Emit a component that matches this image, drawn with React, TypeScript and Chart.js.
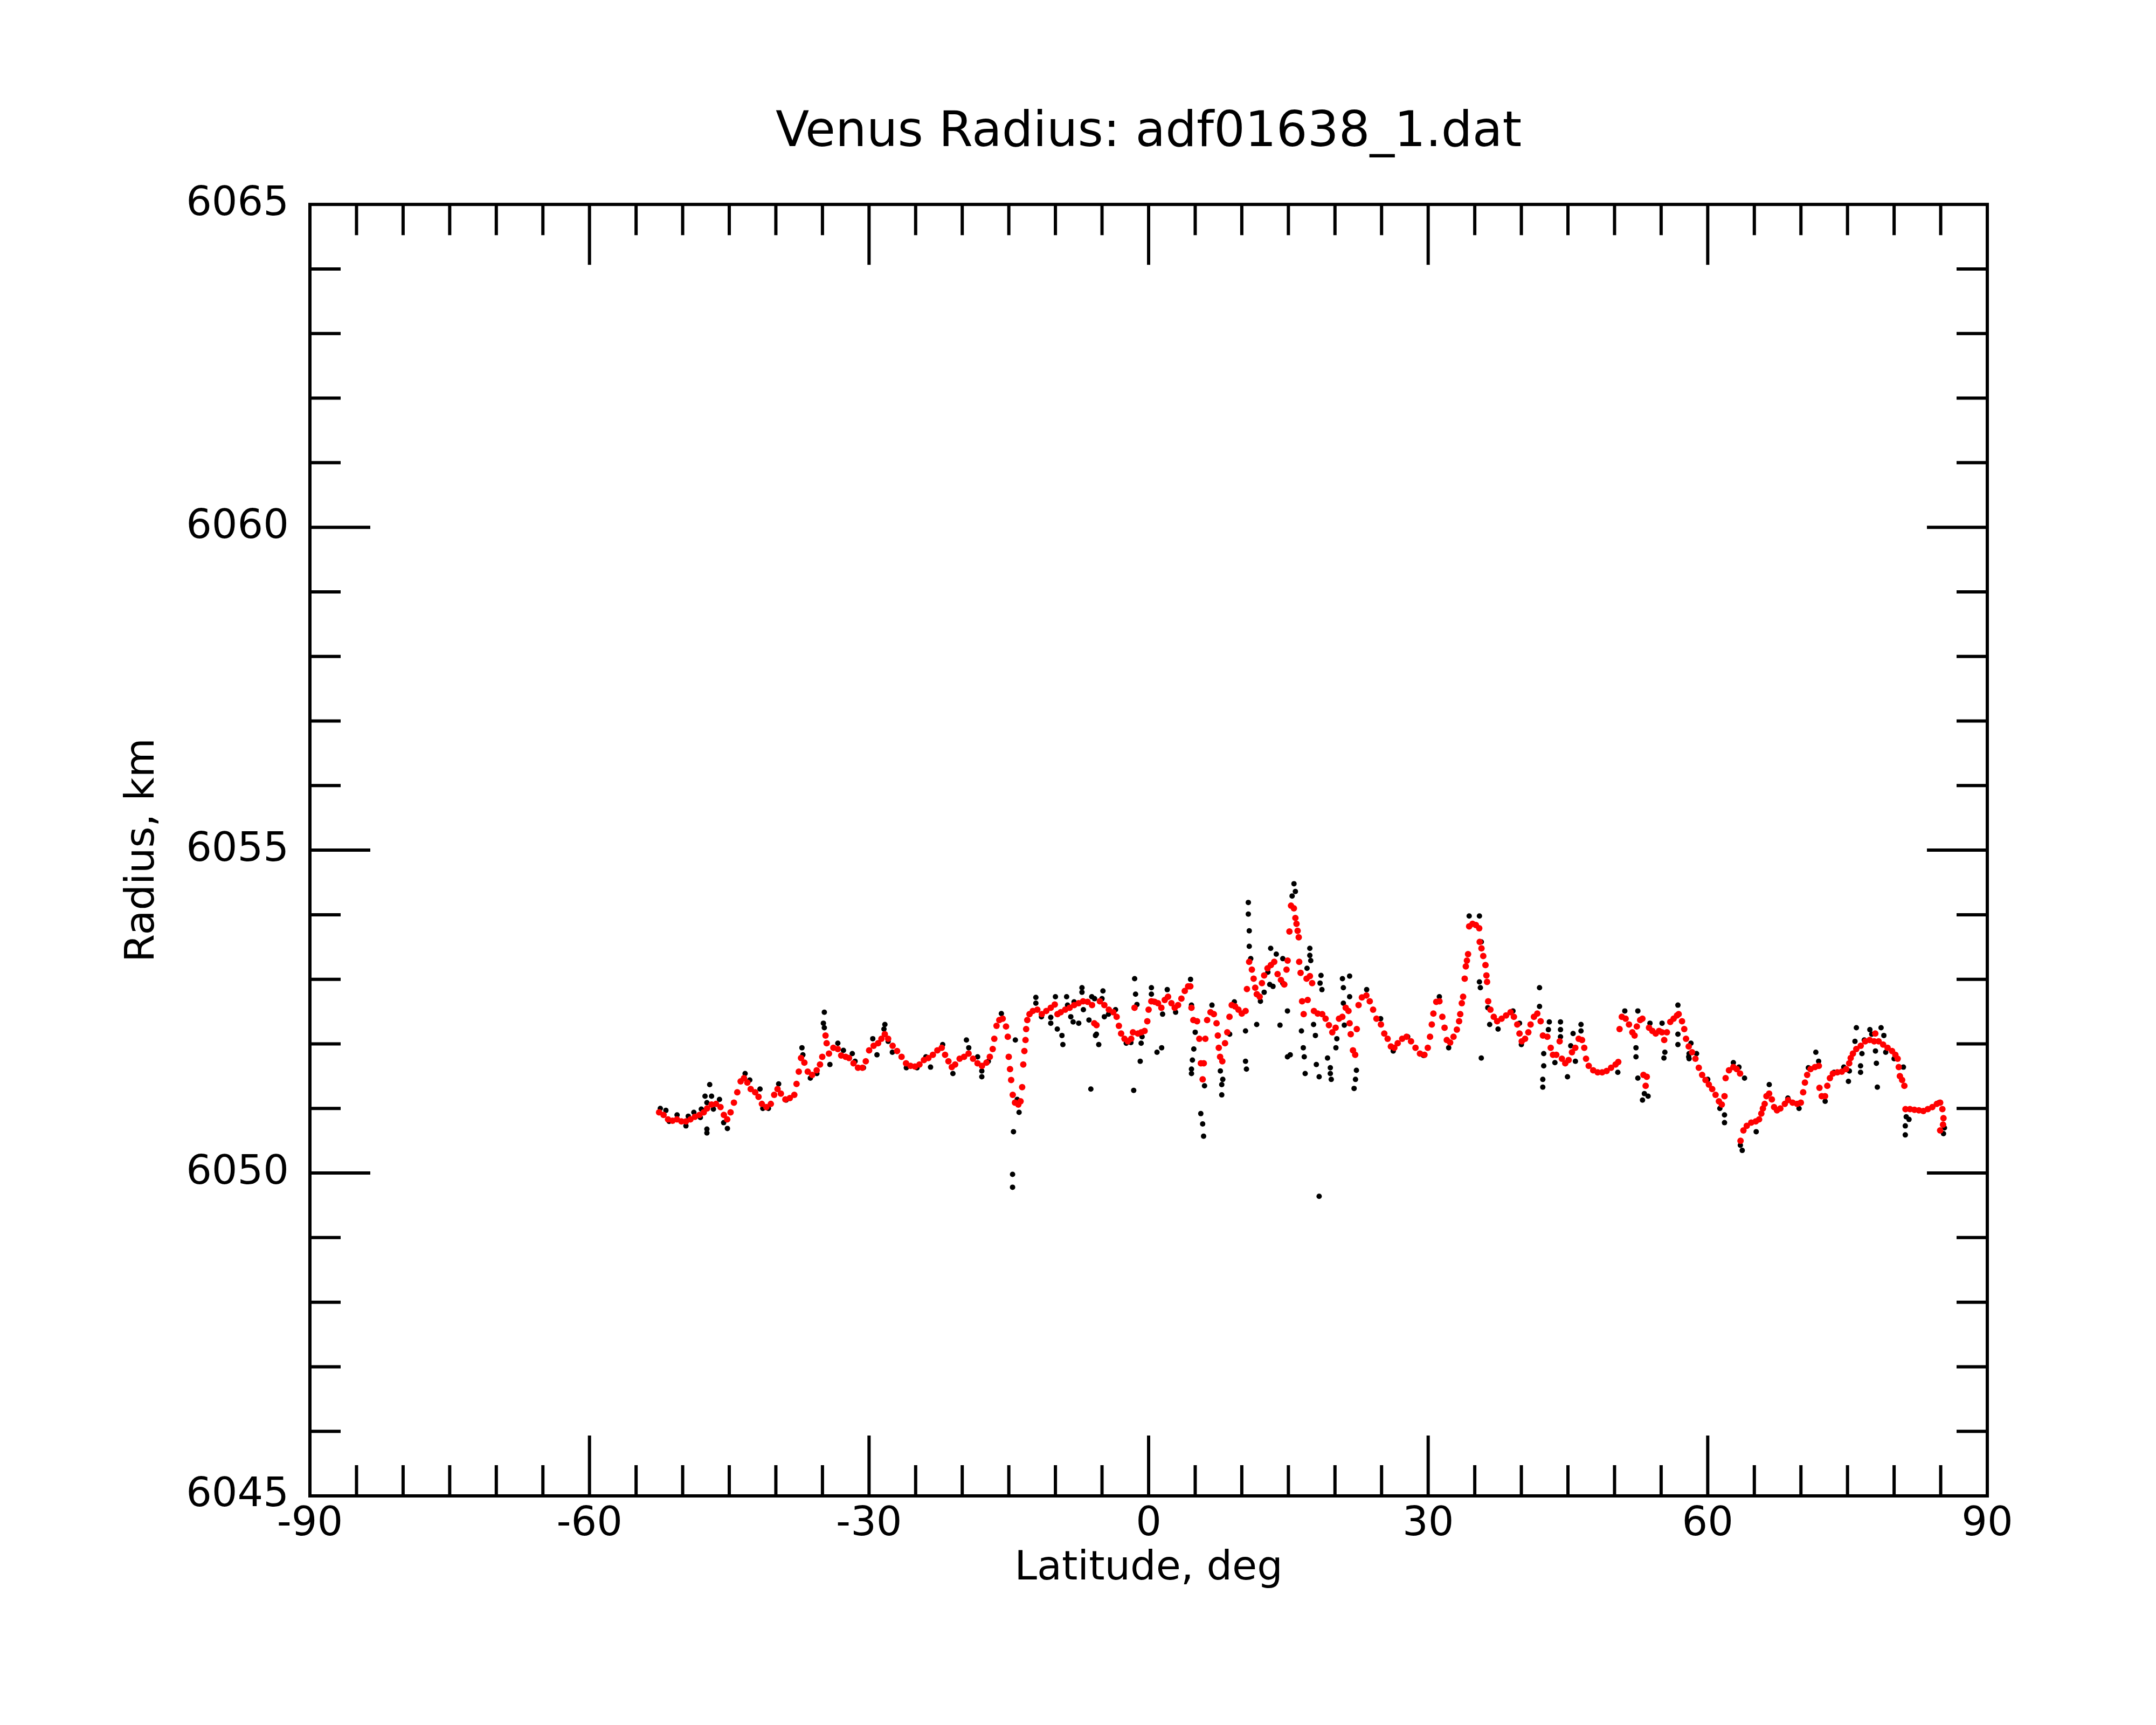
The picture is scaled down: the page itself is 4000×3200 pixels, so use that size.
import { useEffect, useRef } from "react"
import { Chart, registerables } from "chart.js"

Chart.register(...registerables)

// smoothed radius (red)
const redLat = [
  -52.53, -52.05, -51.57, -51.09, -50.61, -50.13, -49.65, -49.17, -48.69, -48.2, -47.74, -47.38, -46.9, -46.42,
  -45.94, -45.58, -45.22, -44.86, -44.5, -44.14, -43.78, -43.42, -43.06, -42.7, -42.22, -41.86, -41.5, -41.02,
  -40.54, -40.18, -39.82, -39.46, -38.98, -38.5, -38.02, -37.78, -37.54, -37.3, -36.94, -36.58, -36.1, -35.62,
  -35.26, -35.02, -34.67, -34.55, -34.3, -33.83, -33.35, -32.99, -32.51, -32.15, -31.67, -31.19, -30.71, -30.35,
  -29.99, -29.51, -29.03, -28.67, -28.31, -27.95, -27.47, -26.99, -26.51, -26.03, -25.55, -25.07, -24.59, -24.11,
  -23.63, -23.15, -22.67, -22.2, -21.84, -21.48, -21.12, -20.76, -20.28, -19.8, -19.32, -18.84, -18.36, -17.88,
  -17.4, -17.04, -16.73, -16.56, -16.32,
  -16.02, -15.66, -15.3, -15.11, -15.01, -14.87, -14.75, -14.58, -14.34, -13.98, -13.74, -13.57, -13.45, -13.33,
  -13.21, -13.14, -13.02, -12.78, -12.42, -11.94, -11.46, -10.98, -10.5, -10.07, -9.78, -9.43, -8.95, -8.47,
  -7.99, -7.51, -7.03, -6.55, -6.07, -5.83, -5.59, -5.23, -4.75, -4.27, -3.79, -3.43, -3.19, -2.95, -2.59,
  -2.23, -1.87, -1.68, -1.51, -1.15, -0.79, -0.43, -0.14, 0.0, 0.29, 0.65, 1.01, 1.37, 1.73, 2.09, 2.45, 2.8,
  3.16, 3.52, 3.88, 4.24, 4.48, 4.6, 4.8, 5.2, 5.44, 5.61, 5.8, 5.92, 6.09, 6.28, 6.64, 7.0, 7.29, 7.43, 7.53,
  7.67, 7.91, 8.2, 8.44, 8.68, 8.92, 9.28, 9.64, 10.0, 10.41, 10.55, 10.79, 11.08, 11.27, 11.44, 11.61, 11.92,
  12.16, 12.4, 12.76, 13.12, 13.48, 13.84, 14.2, 14.56, 14.8, 14.92, 15.11, 15.28, 15.59, 15.75, 15.87, 15.99,
  16.11, 16.16, 16.31, 16.47, 16.64, 16.95, 17.07, 17.31, 17.55, 17.74, 18.15, 18.63, 18.99, 19.35, 19.71,
  20.07, 20.43, 20.79, 21.15,
  21.45, 21.57, 21.69, 21.93, 22.17, 22.34, 22.53, 22.89, 23.37, 23.73, 24.09, 24.45, 24.93, 25.29, 25.65, 26.0,
  26.37, 26.73, 27.21, 27.68, 28.16, 28.64, 29.12, 29.6, 29.96, 30.2, 30.39, 30.56, 30.87, 31.21, 31.52, 31.76,
  32.0, 32.36, 32.72, 33.08, 33.32, 33.44, 33.61, 33.75, 33.92, 34.04, 34.16, 34.28, 34.4, 34.76, 35.12, 35.48,
  35.53, 35.72, 35.91, 36.15, 36.25, 36.32, 36.44, 36.68, 37.04, 37.4, 37.88, 38.36, 38.84, 39.2, 39.56, 39.8,
  40.04, 40.4, 40.75, 40.99, 41.35, 41.71, 42.07, 42.31, 42.79, 43.15, 43.39, 43.75, 44.11, 44.35, 44.71, 45.07,
  45.43, 45.79, 46.15, 46.51, 46.75, 46.94, 47.23, 47.71, 48.19, 48.67, 49.15, 49.63, 50.11, 50.4, 50.54, 50.78,
  51.19, 51.55, 51.91, 52.15, 52.39, 52.75, 52.99, 53.1, 53.46, 53.34, 53.7, 54.06, 54.42, 54.78, 55.09, 55.33,
  55.62, 55.98, 56.34, 56.7,
  56.88, 57.24, 57.48, 57.67, 57.96, 58.32, 58.68, 59.04, 59.4, 59.76, 60.12, 60.48, 60.84, 61.2, 61.51, 61.8,
  61.92, 62.28, 62.75, 63.11, 63.47, 63.52, 63.83, 64.19, 64.67, 65.15, 65.51, 65.75, 65.92, 66.11, 66.3, 66.59,
  66.88, 67.12, 67.43, 67.79, 68.27, 68.63, 69.11, 69.59, 69.99, 70.24, 70.43, 70.67, 71.03, 71.51, 71.92, 71.99,
  72.23, 72.59, 72.83, 73.11, 73.43, 73.91, 74.39, 74.86, 75.18, 75.34, 75.58, 75.94, 76.42, 76.9, 77.38, 77.86,
  77.98, 78.34, 78.82, 79.3, 79.78, 80.14, 80.38, 80.5, 80.62, 80.86, 81.1, 81.22, 81.7, 82.18, 82.66, 83.14,
  83.62, 84.1, 84.58, 84.94, 85.18, 85.3, 85.25, 84.94,
]
const redRadius = [
  6050.94, 6050.9, 6050.83, 6050.81, 6050.83, 6050.8, 6050.8, 6050.83, 6050.87, 6050.9, 6050.94, 6051.0, 6051.06, 6051.07,
  6051.02, 6050.9, 6050.83, 6050.94, 6051.09, 6051.25, 6051.42, 6051.47, 6051.4, 6051.3, 6051.25, 6051.18, 6051.07, 6051.02,
  6051.07, 6051.21, 6051.3, 6051.23, 6051.14, 6051.16, 6051.21, 6051.38, 6051.57, 6051.78, 6051.71, 6051.57, 6051.52, 6051.59,
  6051.68, 6051.8, 6052.13, 6052.01, 6051.85, 6051.94, 6051.92, 6051.82, 6051.8, 6051.78, 6051.7, 6051.63, 6051.63, 6051.73,
  6051.9, 6051.97, 6052.01, 6052.08, 6052.15, 6052.08, 6051.97, 6051.89, 6051.8, 6051.7, 6051.66, 6051.65, 6051.68, 6051.75,
  6051.78, 6051.83, 6051.9, 6051.94, 6051.83, 6051.73, 6051.64, 6051.68, 6051.77, 6051.8, 6051.85, 6051.77, 6051.7, 6051.66,
  6051.71, 6051.8, 6051.92, 6052.08, 6052.28,
  6052.37, 6052.39, 6052.27, 6052.11, 6051.8, 6051.61, 6051.44, 6051.21, 6051.09, 6051.06, 6051.11, 6051.33, 6051.68, 6051.89,
  6052.06, 6052.23, 6052.37, 6052.46, 6052.51, 6052.53, 6052.46, 6052.51, 6052.56, 6052.61, 6052.46, 6052.49, 6052.53, 6052.56,
  6052.6, 6052.63, 6052.66, 6052.65, 6052.6, 6052.32, 6052.29, 6052.66, 6052.6, 6052.53, 6052.49, 6052.42, 6052.28, 6052.16, 6052.08,
  6052.04, 6052.08, 6052.18, 6052.56, 6052.16, 6052.18, 6052.2, 6052.35, 6052.53, 6052.66, 6052.65, 6052.63, 6052.56, 6052.68, 6052.73, 6052.63, 6052.56,
  6052.6, 6052.7, 6052.82, 6052.89, 6052.89, 6052.56, 6052.37, 6052.35, 6052.08, 6051.7, 6051.45, 6051.7, 6052.08, 6052.37, 6052.49, 6052.46, 6052.32, 6052.13, 6051.94,
  6051.8, 6051.73, 6052.01, 6052.18, 6052.42, 6052.6, 6052.58, 6052.53, 6052.47, 6052.51, 6052.85, 6053.27, 6053.15, 6053.01, 6052.87, 6052.77, 6052.73,
  6052.94, 6053.06, 6053.17, 6053.22, 6053.27, 6053.08, 6052.99, 6052.92, 6053.15, 6053.29, 6053.74, 6054.14, 6054.1, 6053.95, 6053.86, 6053.75,
  6053.65, 6053.27, 6053.1, 6052.66, 6052.46, 6053.01, 6052.68, 6053.05, 6052.94, 6052.51, 6052.47, 6052.46, 6052.39, 6052.29, 6052.18,
  6052.25, 6052.39, 6052.42, 6052.56,
  6052.51, 6052.32, 6052.15, 6051.9, 6051.83, 6052.23, 6052.6, 6052.72, 6052.75, 6052.66, 6052.53, 6052.39, 6052.3, 6052.16, 6052.08, 6051.96,
  6051.94, 6052.01, 6052.08, 6052.11, 6052.04, 6051.94, 6051.85, 6051.83, 6051.94, 6052.11, 6052.3, 6052.47, 6052.65, 6052.66, 6052.42, 6052.25,
  6052.06, 6052.02, 6052.11, 6052.22, 6052.35, 6052.46, 6052.63, 6052.73, 6053.01, 6053.2, 6053.29, 6053.39, 6053.82, 6053.86, 6053.84, 6053.79,
  6053.58, 6053.48, 6053.36, 6053.22, 6053.06, 6052.96, 6052.66, 6052.53, 6052.42, 6052.35, 6052.39, 6052.44, 6052.49, 6052.42, 6052.3, 6052.16,
  6052.04, 6052.08, 6052.18, 6052.3, 6052.42, 6052.47, 6052.35, 6052.13, 6052.11, 6051.94, 6051.83, 6051.83, 6052.04, 6051.77, 6051.7, 6051.75,
  6051.87, 6051.94, 6052.08, 6052.06, 6051.94, 6051.77, 6051.66, 6051.59, 6051.56, 6051.56, 6051.58, 6051.63, 6051.68, 6051.72, 6052.23, 6052.42,
  6052.39, 6052.3, 6052.18, 6052.13, 6052.27, 6052.37, 6052.39, 6051.52, 6051.49, 6051.35, 6052.25, 6052.2, 6052.16, 6052.2, 6052.18, 6052.06,
  6052.18, 6052.34, 6052.39, 6052.44,
  6052.46, 6052.35, 6052.23, 6052.08, 6051.96, 6051.87, 6051.77, 6051.63, 6051.52, 6051.44, 6051.37, 6051.3, 6051.21, 6051.11, 6051.06, 6051.19,
  6051.47, 6051.59, 6051.64, 6051.61, 6051.54, 6050.5, 6050.66, 6050.73, 6050.78, 6050.8, 6050.83, 6050.92, 6051.0, 6051.07, 6051.19, 6051.23,
  6051.14, 6051.02, 6050.97, 6051.0, 6051.07, 6051.13, 6051.09, 6051.07, 6051.09, 6051.25, 6051.4, 6051.52, 6051.61, 6051.64, 6051.66, 6051.32,
  6051.19, 6051.19, 6051.35, 6051.47, 6051.54, 6051.56, 6051.57, 6051.61, 6051.7, 6051.78, 6051.85, 6051.92, 6051.97, 6052.04, 6052.06, 6052.04,
  6052.16, 6052.04, 6051.99, 6051.94, 6051.89, 6051.83, 6051.77, 6051.64, 6051.5, 6051.44, 6051.35, 6050.99, 6050.99, 6050.98, 6050.97, 6050.96,
  6050.99, 6051.02, 6051.07, 6051.09, 6050.99, 6050.85, 6050.75, 6050.66,
]

// raw radius samples (black) that show around the red trace
const blackLat = [
  -52.4, -51.8, -51.45, -50.6, -49.65, -49.4, -48.8, -48.1, -48.0, -47.6, -47.4, -47.1, -47.4, -47.4, -46.9, -46.7,
  -46.05, -45.6, -45.2, -43.3, -42.8, -41.7, -41.4, -40.8, -39.7, -38.9, -37.2, -37.1, -36.3, -35.6, -35.3, -34.8,
  -34.9, -34.8, -34.2, -33.35, -32.75, -31.8, -31.5, -30.6, -29.6, -29.15, -28.3, -28.4, -27.95, -27.5, -26.0, -24.85,
  -23.9, -23.4, -22.1, -21.0, -19.55, -19.3, -18.35, -17.9, -17.9, -17.2,
  -15.8, -14.3, -14.5, -14.6, -14.6, -13.9, -14.1, -12.1, -12.1, -11.5, -10.5, -10.5, -10.0, -9.8, -9.3, -9.2,
  -8.8, -8.7, -8.35, -8.1, -8.0, -7.5, -7.15, -7.15, -7.0, -6.4, -6.1, -5.8, -6.2, -5.7, -5.35, -5.6, -4.9, -5.0,
  -4.75, -4.3, -3.55, -2.4, -1.9, -1.5, -1.4, -1.25, -1.6, -0.9, -0.7, -0.8, 0.3, 0.3, 0.5, 0.9, 1.4, 1.5, 2.0,
  2.0, 2.9, 4.5, 4.6, 5.0, 4.85, 4.7, 4.6, 4.6, 5.6, 5.8, 5.9, 6.0, 6.8, 7.7, 7.96, 7.85, 7.85, 8.7, 9.2, 9.6,
  10.4, 10.4, 10.5, 10.7, 10.7, 10.8, 10.8, 10.96, 11.6, 12.0, 12.4, 12.8, 13.0, 13.1, 13.35, 13.7, 14.1, 14.4,
  14.4, 14.9, 14.9, 15.2, 15.4, 15.6, 15.75, 16.4, 16.6, 16.7, 16.8, 17.0, 17.3, 17.3, 17.4, 17.7, 17.9, 18.0,
  18.3, 18.3, 18.5, 18.4, 18.6, 19.2, 19.5, 19.5, 19.6, 20.1, 20.2, 20.8, 20.9, 20.9, 21.0,
  21.57, 21.57, 22.3, 22.2, 22.05, 23.4, 24.9, 26.25, 27.8, 29.5, 31.2, 32.2, 34.4, 35.5, 35.7, 35.5, 35.6, 35.7,
  36.4, 36.6, 37.5, 39.1, 39.8, 40.0, 41.95, 41.95, 42.4, 42.3, 42.3, 42.4, 43.0, 42.9, 43.6, 44.2, 44.2, 44.2,
  44.95, 45.3, 45.55, 45.8, 46.4, 46.4, 50.35, 51.1, 52.5, 52.5, 52.3, 52.3, 53.0, 53.6, 53.2, 53.8, 55.1, 55.4,
  55.3, 56.8, 56.8, 56.8, 58.0, 58.0,
  57.96, 58.2, 58.8, 60.0, 61.3, 61.8, 61.8, 62.75, 63.35, 63.95, 63.5, 63.7, 65.2, 66.6, 68.6, 69.8, 70.8, 71.6,
  71.9, 72.6, 73.55, 74.6, 75.1, 75.2, 75.95, 75.8, 76.55, 76.4, 76.4, 76.8, 77.4, 77.6, 78.0, 78.1, 78.2, 78.6,
  78.9, 79.1, 80.0, 81.0, 81.3, 81.2, 81.2, 81.6, 84.8, 85.3, 85.4,
]
const blackRadius = [
  6051.0, 6050.97, 6050.8, 6050.9, 6050.73, 6050.88, 6050.94, 6050.86, 6050.99, 6051.19, 6051.09, 6051.37, 6050.68, 6050.62, 6051.19, 6050.99,
  6051.14, 6050.78, 6050.69, 6051.54, 6051.44, 6051.3, 6051.0, 6051.0, 6051.38, 6051.13, 6051.94, 6051.83, 6051.47, 6051.54, 6051.68, 6052.49,
  6052.32, 6052.25, 6051.68, 6052.01, 6051.9, 6051.85, 6051.73, 6051.63, 6052.08, 6051.83, 6052.3, 6052.23, 6052.04, 6051.87, 6051.63, 6051.63,
  6051.8, 6051.64, 6051.99, 6051.54, 6052.06, 6051.94, 6051.8, 6051.58, 6051.49, 6051.73,
  6052.47, 6052.06, 6050.64, 6049.98, 6049.78, 6050.94, 6051.14, 6052.72, 6052.63, 6052.42, 6052.41, 6052.32, 6052.73, 6052.23, 6052.13, 6051.99,
  6052.73, 6052.6, 6052.42, 6052.34, 6052.65, 6052.32, 6052.87, 6052.8, 6052.53, 6052.37, 6052.73, 6052.7, 6051.3, 6052.13, 6051.99, 6052.15, 6052.82, 6052.7,
  6052.42, 6052.46, 6052.53, 6052.01, 6052.02, 6053.01, 6052.77, 6052.61, 6051.28, 6051.73, 6052.11, 6052.01, 6052.87, 6052.77, 6052.66, 6051.87, 6051.94, 6052.46, 6052.84,
  6052.72, 6052.49, 6053.0, 6052.6, 6052.18, 6051.92, 6051.75, 6051.61, 6051.54, 6050.92, 6050.76, 6050.57, 6051.35, 6052.6, 6051.58, 6051.45, 6051.37, 6051.21, 6052.15, 6052.65, 6052.53,
  6052.2, 6051.73, 6051.61, 6054.19, 6054.01, 6053.75, 6053.51, 6053.32, 6052.3, 6052.66, 6052.8, 6053.11, 6052.92, 6053.48, 6052.89, 6053.39, 6052.29, 6053.32,
  6052.94, 6052.51, 6051.8, 6051.83, 6054.29, 6054.48, 6054.36, 6052.2, 6051.94, 6051.8, 6051.54, 6053.17, 6053.48, 6053.37, 6053.29, 6052.3, 6052.13, 6051.68,
  6051.49, 6049.64, 6053.06, 6052.94, 6052.84, 6051.78, 6051.63, 6051.54, 6051.45, 6051.94, 6052.08, 6053.01, 6052.87, 6052.63, 6052.29,
  6053.05, 6052.73, 6051.59, 6051.45, 6051.31, 6052.84, 6052.39, 6051.89, 6052.11, 6051.82, 6052.73, 6051.94, 6053.98, 6053.98, 6053.58, 6052.96, 6052.87, 6051.78,
  6052.56, 6052.3, 6052.23, 6052.51, 6052.32, 6051.99, 6052.87, 6052.58, 6051.66, 6051.45, 6051.33, 6051.85, 6052.34, 6052.22, 6051.71, 6052.34, 6052.22, 6052.11,
  6051.49, 6051.97, 6052.16, 6051.73, 6052.3, 6052.2, 6051.56, 6052.51, 6052.51, 6051.47, 6051.94, 6051.8, 6051.13, 6051.19, 6051.23, 6052.32, 6052.32, 6051.87,
  6051.78, 6052.6, 6052.15, 6051.99, 6051.85, 6051.77,
  6051.8, 6052.01, 6051.85, 6051.45, 6051.0, 6050.9, 6050.78, 6051.71, 6051.64, 6051.47, 6050.43, 6050.35, 6050.64, 6051.37, 6051.16, 6051.0, 6051.63, 6051.87,
  6051.73, 6051.11, 6051.56, 6051.64, 6051.42, 6051.58, 6052.25, 6052.04, 6051.85, 6051.66, 6051.56, 6052.06, 6052.22, 6052.15, 6051.89, 6051.7, 6051.33, 6052.25,
  6052.13, 6051.87, 6051.77, 6051.64, 6050.87, 6050.73, 6050.59, 6050.83, 6051.09, 6050.61, 6050.7,
]

const xTickLabels = [-90, -60, -30, 0, 30, 60, 90]
const yTickLabels = [6045, 6050, 6055, 6060, 6065]

const FONT = "DejaVu Sans"

// inward ticks on all four sides, like the plotting package draws them
const frameTicks = {
  id: "frameTicks",
  afterDatasetsDraw(chart: any) {
    const { ctx, chartArea, scales } = chart
    const { left, right, top, bottom } = chartArea
    const major = 112
    const minor = 57
    ctx.save()
    ctx.strokeStyle = "#000"
    ctx.lineWidth = 6
    ctx.lineCap = "butt"
    ctx.beginPath()
    for (let v = -85; v < 90; v += 5) {
      const px = scales.x.getPixelForValue(v)
      const len = v % 30 === 0 ? major : minor
      ctx.moveTo(px, bottom)
      ctx.lineTo(px, bottom - len)
      ctx.moveTo(px, top)
      ctx.lineTo(px, top + len)
    }
    for (let v = 6046; v < 6065; v += 1) {
      const py = scales.y.getPixelForValue(v)
      const len = v % 5 === 0 ? major : minor
      ctx.moveTo(left, py)
      ctx.lineTo(left + len, py)
      ctx.moveTo(right, py)
      ctx.lineTo(right - len, py)
    }
    ctx.stroke()
    ctx.strokeRect(left, top, right - left, bottom - top)
    ctx.restore()
  },
}

export default function App() {
  const chartRef = useRef<HTMLCanvasElement>(null)
  const chartInstance = useRef<Chart | null>(null)

  useEffect(() => {
    if (!chartRef.current) return
    if (chartInstance.current) chartInstance.current.destroy()
    const ctx = chartRef.current.getContext("2d")
    if (!ctx) return

    Chart.defaults.font.family = FONT
    Chart.defaults.color = "#000"

    chartInstance.current = new Chart(ctx, {
      type: "scatter",
      data: {
        datasets: [
          {
            label: "smoothed",
            data: redLat.map((x, i) => ({ x, y: redRadius[i] })),
            backgroundColor: "#ff0000",
            borderWidth: 0,
            pointRadius: 6,
          },
          {
            label: "raw",
            data: blackLat.map((x, i) => ({ x, y: blackRadius[i] })),
            backgroundColor: "#000000",
            borderWidth: 0,
            pointRadius: 5,
          },
        ],
      },
      options: {
        animation: false,
        responsive: true,
        maintainAspectRatio: false,
        devicePixelRatio: 1,
        layout: { padding: { top: 193, right: 313, bottom: 244, left: 0 } },
        scales: {
          x: {
            type: "linear",
            min: -90,
            max: 90,
            grid: { display: false, drawTicks: false },
            border: { display: false },
            ticks: {
              stepSize: 30,
              padding: 9,
              maxRotation: 0,
              autoSkip: false,
              font: { size: 75 },
              color: "#000",
              callback: (v: any) => (xTickLabels.includes(Number(v)) ? String(v) : ""),
            },
            title: { display: true, text: "Latitude, deg", font: { size: 75 }, color: "#000", padding: { top: 0, bottom: 0 } },
            afterFit: (s: any) => {
              s.height = 181
            },
          },
          y: {
            type: "linear",
            min: 6045,
            max: 6065,
            grid: { display: false, drawTicks: false },
            border: { display: false },
            ticks: {
              stepSize: 5,
              padding: 39,
              font: { size: 75 },
              color: "#000",
              callback: (v: any) => (yTickLabels.includes(Number(v)) ? String(v) : ""),
            },
            title: { display: true, text: "Radius, km", font: { size: 75 }, color: "#000", padding: { top: 221, bottom: 0 } },
            afterFit: (s: any) => {
              s.width = 575
            },
          },
        },
        plugins: {
          legend: { display: false },
          tooltip: { enabled: false },
          title: {
            display: true,
            text: "Venus Radius: adf01638_1.dat",
            fullSize: false,
            font: { size: 91, weight: "normal" },
            color: "#000",
            padding: { top: 0, bottom: 77 },
          },
        },
      },
      plugins: [frameTicks],
    })

    return () => {
      if (chartInstance.current) {
        chartInstance.current.destroy()
        chartInstance.current = null
      }
    }
  }, [])

  return (
    <div style={{ position: "absolute", left: 0, top: 0, width: 4000, height: 3200, background: "#fff" }}>
      <canvas ref={chartRef} />
    </div>
  )
}
